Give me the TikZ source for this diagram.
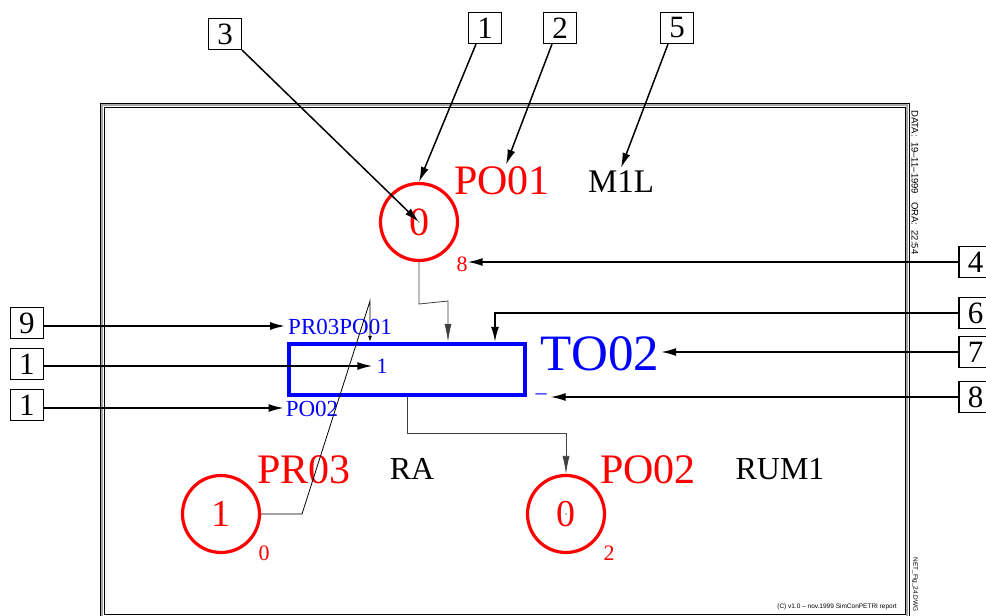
\documentclass[tikz,border=0pt]{standalone}
\usepackage{fontspec}
\setmainfont{Liberation Serif}
\newfontfamily\helv{Liberation Sans}
\usetikzlibrary{arrows.meta,calc}
\definecolor{pred}{RGB}{255,0,0}
\definecolor{tblue}{RGB}{0,0,255}
\tikzset{
  callbox/.style={draw, line width=1.2pt, minimum width=33pt, minimum height=31pt, inner sep=0pt, font=\fontsize{31}{31}\selectfont},
  callarrow/.style={line width=1.5pt, -{Latex[length=15pt,width=8pt]}},
  arcline/.style={line width=0.8pt, draw=black!75, -{Latex[length=18pt,width=7pt]}},
  place/.style={circle, draw=pred, line width=3.2pt, minimum size=77pt, inner sep=0pt, text=pred, font=\fontsize{38}{38}\selectfont},
  bigred/.style={text=pred, inner sep=0pt, font=\fontsize{42}{42}\selectfont},
  blackname/.style={inner sep=0pt, font=\fontsize{32}{32}\selectfont},
  smallred/.style={text=pred, inner sep=0pt, font=\fontsize{22}{22}\selectfont},
  bluetxt/.style={text=tblue, inner sep=0pt, font=\fontsize{23}{23}\selectfont},
  trans/.style={draw=tblue, line width=4.5pt, minimum width=236pt, minimum height=51pt, inner sep=0pt},
  tiny/.style={inner sep=0pt, font=\helv\fontsize{9.5}{9.5}\selectfont}
}
\begin{document}
\begin{tikzpicture}[x=1pt,y=-1pt]
\useasboundingbox (0,0) rectangle (986,616);
% frame
\draw[line width=1pt] (100,103) rectangle (909,620);
\draw[line width=1.2pt, black!35] (102,105) rectangle (907,618);
\draw[line width=0.8pt] (104,107) rectangle (905,614);
\node[tiny, rotate=-90, anchor=west] (date) at (915,110) {DATA:\ \ 19–11–1999\ \ \ ORA:\ \ 22:54};
\node[tiny, rotate=-90, anchor=east, font=\helv\fontsize{6.5}{6.5}\selectfont] (dwg) at (915,612) {NET\_Fig\_24.DWG};
\node[tiny, anchor=east, font=\helv\fontsize{6.5}{6.5}\selectfont] (copy) at (897,607) {(C) v1.0 – nov.1999 SimConPETRI report};

% places
\node[place, font=\fontsize{40}{40}\selectfont] (po01) at (419,222) {0};
\node[place] (pr03) at (221,514) {1};
\node[place] (po02) at (566,514) {0};
\foreach \p in {po01,pr03,po02} \fill (\p.center) circle (0.7pt);
\node[bigred] (po01lab) at (502,181) {PO01};
\node[blackname, font=\fontsize{33}{33}\selectfont] (m1l) at (621,182) {M1L};
\node[smallred] (po01cap) at (462,264) {8};
\node[bigred] (pr03lab) at (304,470) {PR03};
\node[blackname] (ra) at (412,469) {RA};
\node[smallred] (pr03cap) at (264,553) {0};
\node[bigred] (po02lab) at (648,470) {PO02};
\node[blackname] (rum1) at (780,469) {RUM1};
\node[smallred] (po02cap) at (609,553) {2};

% transition
\node[trans] (t) at (407,369.5) {};
\node[text=tblue, inner sep=0pt, font=\fontsize{51}{51}\selectfont] (tlab) at (600,354) {TO02};
\node[bluetxt] (tin) at (340,327) {PR03PO01};
\node[bluetxt, font=\fontsize{22}{22}\selectfont] (tprio) at (382,366) {1};
\node[bluetxt] (tout) at (312,409) {PO02};
\node[bluetxt, font=\fontsize{22}{22}\selectfont] (tdash) at (541,397) {–};

% arcs
\coordinate (k1) at (448,301);
\draw[arcline] (po01.south) -- (419,304) -- (k1) -- (k1 |- t.north);
\coordinate (k2) at (302,514);
\coordinate (k3) at (370,301);
\draw[line width=0.8pt, -{Latex[length=6pt,width=4pt]}] (pr03.east) -- (k2) -- (k3) -- (k3 |- t.north);
\draw[arcline] (t.south) -- ++(0,36) -| (po02.north);

% callouts
\node[callbox] (b3) at (225,34) {3};
\node[callbox] (b1t) at (485,28) {1};
\node[callbox] (b2) at (560,28) {2};
\node[callbox] (b5) at (677,28) {5};
\node[callbox] (b4) at (975.5,262) {4};
\node[callbox] (b6) at (975.5,313) {6};
\node[callbox] (b7) at (975.5,352) {7};
\node[callbox] (b8) at (975.5,397) {8};
\node[callbox] (b9) at (27,323) {9};
\node[callbox] (b1a) at (27,364) {1};
\node[callbox] (b1b) at (27,405) {1};

\draw[callarrow] (b3.south east) -- (po01.center);
\draw[callarrow] ($(b1t.south)+(-9,0)$) -- (po01.north);
\draw[callarrow] ($(b2.south)+(-8,0)$) -- ($(po01lab.north)+(4,-2)$);
\draw[callarrow] ($(b5.south)+(-9,0)$) -- ($(m1l.north)+(0,-3)$);
\draw[callarrow] (b4.west) -- (po01cap.east |- b4.west);
\coordinate (k4) at (495,313);
\draw[callarrow] (b6.west) -- (k4) -- (k4 |- t.north);
\draw[callarrow] (b7.west) -- ($(tlab.east)+(2,-2)$);
\draw[callarrow] (b8.west) -- ($(tdash.east)+(4,0)$);
\draw[callarrow] ($(b9.east)+(0,3)$) -- ($(tin.west)+(-3,-1)$);
\draw[callarrow] ($(b1a.east)+(0,2)$) -- ($(tprio.west)+(-4,0)$);
\draw[callarrow] ($(b1b.east)+(0,3)$) -- ($(tout.west)+(-2,-1)$);
\end{tikzpicture}
\end{document}
